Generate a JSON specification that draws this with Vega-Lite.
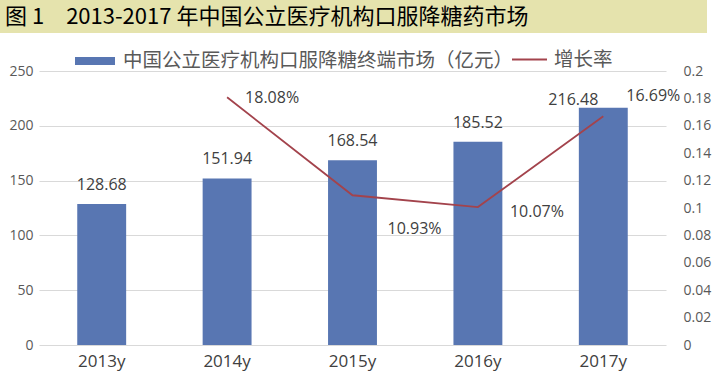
{
  "$schema": "https://vega.github.io/schema/vega-lite/v6.json",
  "padding": {"left": 0, "top": 0, "right": 6, "bottom": 6},
  "background": "white",
  "spacing": 31,
  "config": {"view": {"stroke": null}, "font": "Open Sans"},
  "vconcat": [
    {
      "width": 707,
      "height": 33,
      "view": {"fill": "#e5e3ad", "stroke": null},
      "data": {"values": [{"t": "图 1　2013-2017 年中国公立医疗机构口服降糖药市场"}]},
      "mark": {"type": "text", "align": "left", "baseline": "middle", "font": "Noto Sans CJK SC", "fontSize": 22, "color": "#000000", "dx": 5},
      "encoding": {
        "text": {"field": "t"},
        "x": {"datum": 0, "type": "quantitative", "scale": {"domain": [0, 1]}, "axis": null},
        "y": {"datum": 0.5, "type": "quantitative", "scale": {"domain": [0, 1]}, "axis": null}
      }
    },
    {
      "spacing": 0,
      "hconcat": [
        {
          "width": 1,
          "height": 1,
          "data": {"values": [{"t": ""}]},
          "mark": {"type": "text"},
          "encoding": {"text": {"field": "t"}}
        },
        {
          "width": 627,
          "height": 274,
          "data": {"values": [
            {"year": "2013y", "market": 128.68, "rate": null},
            {"year": "2014y", "market": 151.94, "rate": 0.1808},
            {"year": "2015y", "market": 168.54, "rate": 0.1093},
            {"year": "2016y", "market": 185.52, "rate": 0.1007},
            {"year": "2017y", "market": 216.48, "rate": 0.1669}
          ]},
          "encoding": {
            "x": {
              "field": "year", "type": "nominal", "sort": null,
              "scale": {"paddingInner": 0.61, "paddingOuter": 0.305},
              "axis": {"title": null, "domain": false, "ticks": false, "labelColor": "#404040", "labelFontSize": 17, "labelPadding": 8, "labelAngle": 0}
            }
          },
          "layer": [
            {
              "encoding": {
                "y": {
                  "field": "market", "type": "quantitative",
                  "scale": {"domain": [0, 250]},
                  "axis": {"title": null, "values": [0, 50, 100, 150, 200, 250], "domain": false, "ticks": false, "grid": true, "gridColor": "#d9d9d9", "labelColor": "#595959", "labelFontSize": 14, "labelPadding": 6, "minExtent": 38}
                }
              },
              "layer": [
                {
                  "mark": {"type": "bar", "color": "#5876b2"},
                  "encoding": {
                    "fill": {
                      "datum": "中国公立医疗机构口服降糖终端市场（亿元）",
                      "scale": {"range": ["#5876b2"]},
                      "legend": {"orient": "none", "legendX": 75, "legendY": 41, "title": null, "symbolType": "M-1,-0.2H1V0.2H-1Z", "symbolSize": 1600, "symbolStrokeWidth": 0, "symbolOpacity": 1, "labelFontSize": 19.5, "labelFont": "Noto Sans CJK SC", "labelColor": "#595959", "labelOffset": 8, "labelLimit": 0, "padding": 0}
                    }
                  }
                },
                {
                  "transform": [{"filter": "datum.year != '2017y'"}],
                  "mark": {"type": "text", "dy": -19, "fontSize": 16, "color": "#404040"},
                  "encoding": {"text": {"field": "market", "type": "quantitative", "format": ".2f"}}
                },
                {
                  "transform": [{"filter": "datum.year == '2017y'"}],
                  "mark": {"type": "text", "dx": -30, "dy": -8, "fontSize": 16, "color": "#404040"},
                  "encoding": {"text": {"field": "market", "type": "quantitative", "format": ".2f"}}
                }
              ]
            },
            {
              "encoding": {
                "y": {
                  "field": "rate", "type": "quantitative",
                  "scale": {"domain": [0, 0.2]},
                  "axis": {"title": null, "orient": "right", "values": [0, 0.02, 0.04, 0.06, 0.08, 0.1, 0.12, 0.14, 0.16, 0.18, 0.2], "format": "~g", "domain": false, "ticks": false, "grid": false, "labelColor": "#595959", "labelFontSize": 14, "labelPadding": 17}
                }
              },
              "layer": [
                {
                  "mark": {"type": "line", "color": "#a3434c", "strokeWidth": 1.8},
                  "encoding": {
                    "stroke": {
                      "datum": "增长率",
                      "scale": {"range": ["#a3434c"]},
                      "legend": {"orient": "none", "legendX": 511, "legendY": 41, "title": null, "symbolType": "stroke", "symbolSize": 1225, "symbolStrokeWidth": 1.8, "labelFontSize": 19.5, "labelFont": "Noto Sans CJK SC", "labelColor": "#595959", "labelOffset": 6, "labelLimit": 0, "padding": 0}
                    }
                  }
                },
                {
                  "transform": [{"filter": "datum.year == '2014y'"}],
                  "mark": {"type": "text", "align": "left", "dx": 18, "dy": 1, "fontSize": 16, "color": "#404040"},
                  "encoding": {"text": {"field": "rate", "type": "quantitative", "format": ".2%"}}
                },
                {
                  "transform": [{"filter": "datum.year == '2015y'"}],
                  "mark": {"type": "text", "align": "left", "dx": 35, "dy": 34, "fontSize": 16, "color": "#404040"},
                  "encoding": {"text": {"field": "rate", "type": "quantitative", "format": ".2%"}}
                },
                {
                  "transform": [{"filter": "datum.year == '2016y'"}],
                  "mark": {"type": "text", "align": "left", "dx": 32, "dy": 5, "fontSize": 16, "color": "#404040"},
                  "encoding": {"text": {"field": "rate", "type": "quantitative", "format": ".2%"}}
                },
                {
                  "transform": [{"filter": "datum.year == '2017y'"}],
                  "mark": {"type": "text", "align": "left", "dx": 23, "dy": -20, "fontSize": 16, "color": "#404040"},
                  "encoding": {"text": {"field": "rate", "type": "quantitative", "format": ".2%"}}
                }
              ]
            }
          ],
          "resolve": {"scale": {"y": "independent"}}
        }
      ]
    }
  ]
}
